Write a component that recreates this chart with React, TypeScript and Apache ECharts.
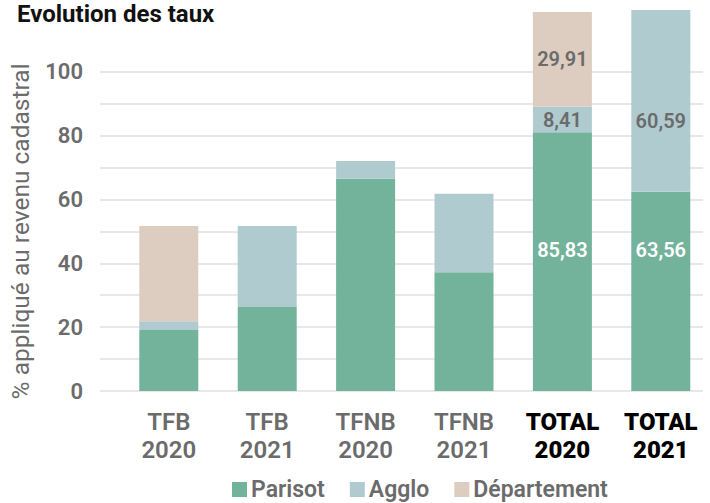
import React, { useEffect, useRef } from "react";
import * as echarts from "echarts";

const categories = ["TFB 2020", "TFB 2021", "TFNB 2020", "TFNB 2021", "TOTAL 2020", "TOTAL 2021"];
const boldCategories = ["TOTAL 2020", "TOTAL 2021"];
const parisot = [19.1, 26.3, 66.5, 37.2, 81.1, 62.5];
const agglo = [2.8, 25.4, 5.6, 24.6, 8.0, 56.9];
const departement = [29.8, 0, 0, 0, 29.7, 0];
const parisotLabels = ["", "", "", "", "85,83", "63,56"];
const aggloLabels = ["", "", "", "", "8,41", "60,59"];
const departementLabels = ["", "", "", "", "29,91", ""];
const yTicks = [0, 20, 40, 60, 80, 100];

const FONT = "Roboto";
const GREY = "#6b6b6b";
const C_PARISOT = "#73b39b";
const C_AGGLO = "#b0cbd0";
const C_DEPT = "#ddcdc0";

const labelOffsets: Record<string, number[]> = {
  "85,83": [0, -12],
  "63,56": [0, -41],
  "60,59": [0, 20],
};

function buildData(values: number[], labels: string[], color: string) {
  return values.map((v, i) => {
    const t = labels[i];
    return {
      value: v,
      label: {
        show: t !== "",
        position: "inside",
        formatter: t,
        color,
        fontFamily: FONT,
        fontSize: 20,
        fontWeight: 600,
        offset: labelOffsets[t] || [0, 0],
      },
    };
  });
}

export default function App() {
  const ref = useRef<HTMLDivElement>(null);
  useEffect(() => {
    if (!ref.current) return;
    const chart = echarts.init(ref.current, null, { renderer: "svg" });
    chart.setOption({
      animation: false,
      title: {
        text: "Evolution des taux",
        left: 12,
        top: -3,
        textStyle: { fontFamily: FONT, fontSize: 24, fontWeight: "bold", color: "#111" },
      },
      legend: {
        data: ["Parisot", "Agglo", "Département"],
        left: 227,
        top: 473,
        icon: "rect",
        itemWidth: 15,
        itemHeight: 15,
        itemGap: 25,
        textStyle: { fontFamily: FONT, fontSize: 23, fontWeight: 600, color: GREY, padding: [0, 0, 0, -1] },
      },
      grid: [
        { left: 119.6, right: -8.6, top: 8.2, bottom: 112 },
        { left: 97, right: 7, top: 71.8, bottom: 112 },
      ],
      xAxis: [
        {
          type: "category",
          gridIndex: 0,
          data: categories,
          axisLine: { show: false },
          axisTick: { show: false },
          axisLabel: {
            margin: 17,
            formatter: (v: string) => {
              const parts = v.split(" ");
              const s = boldCategories.includes(v) ? "b" : "g";
              return parts.map((p) => `{${s}|${p}}`).join("\n");
            },
            rich: {
              g: { fontFamily: FONT, fontSize: 24, fontWeight: 600, color: GREY, lineHeight: 28 },
              b: { fontFamily: FONT, fontSize: 24, fontWeight: 900, color: "#000", lineHeight: 28 },
            },
          },
        },
        { type: "value", gridIndex: 1, show: false, min: 0, max: 1 },
      ],
      yAxis: [
        { type: "value", gridIndex: 0, min: 0, max: 120, show: false },
        {
          type: "value",
          gridIndex: 1,
          min: 0,
          max: 100,
          interval: 10,
          name: "% appliqué au revenu cadastral",
          nameLocation: "middle",
          nameRotate: 90,
          nameGap: 67,
          nameTextStyle: { fontFamily: FONT, fontSize: 24.5, color: GREY },
          axisLine: { show: false },
          axisTick: { show: false },
          axisLabel: {
            margin: 17,
            fontFamily: FONT,
            fontSize: 22,
            fontWeight: 600,
            color: GREY,
            formatter: (v: number) => (yTicks.includes(v) ? String(v) : ""),
          },
          splitLine: { show: true, lineStyle: { color: "#e0e0e0", width: 1.6 } },
        },
      ],
      series: [
        {
          name: "Parisot",
          type: "bar",
          stack: "t",
          xAxisIndex: 0,
          yAxisIndex: 0,
          barWidth: 59,
          itemStyle: { color: C_PARISOT },
          data: buildData(parisot, parisotLabels, "#ffffff"),
        },
        {
          name: "Agglo",
          type: "bar",
          stack: "t",
          xAxisIndex: 0,
          yAxisIndex: 0,
          barWidth: 59,
          itemStyle: { color: C_AGGLO },
          data: buildData(agglo, aggloLabels, GREY),
        },
        {
          name: "Département",
          type: "bar",
          stack: "t",
          xAxisIndex: 0,
          yAxisIndex: 0,
          barWidth: 59,
          itemStyle: { color: C_DEPT },
          data: buildData(departement, departementLabels, GREY),
        },
      ],
    });
    return () => chart.dispose();
  }, []);
  return (
    <div
      ref={ref}
      style={{ position: "absolute", left: 0, top: 0, width: 710, height: 503 }}
    />
  );
}
